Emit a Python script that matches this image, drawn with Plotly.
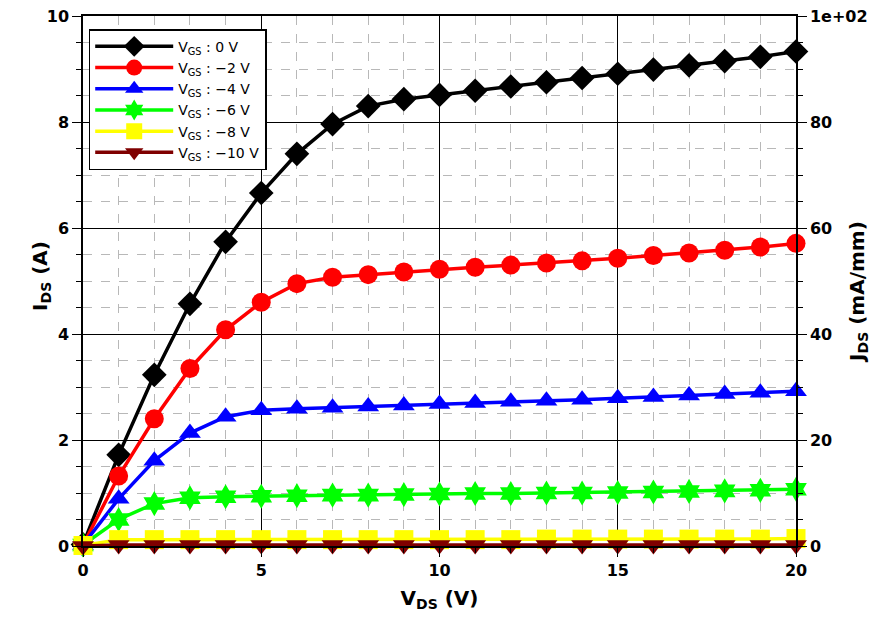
import plotly.graph_objects as go

# drain bias sweep [V]
vds = list(range(0, 21))

# drain current [A] per gate bias
ids_0 = [0.03, 1.72, 3.23, 4.57, 5.74, 6.66, 7.40, 7.96, 8.30, 8.43, 8.51,
         8.59, 8.67, 8.75, 8.83, 8.91, 8.99, 9.07, 9.15, 9.23, 9.33]
ids_m2 = [0.02, 1.32, 2.40, 3.35, 4.08, 4.60, 4.95, 5.07, 5.12, 5.17, 5.22,
          5.26, 5.30, 5.34, 5.38, 5.43, 5.48, 5.53, 5.58, 5.64, 5.71]
ids_m4 = [0.02, 0.89, 1.61, 2.13, 2.44, 2.56, 2.59, 2.61, 2.63, 2.65, 2.68,
          2.70, 2.72, 2.74, 2.76, 2.79, 2.81, 2.84, 2.87, 2.89, 2.92]
ids_m6 = [0.02, 0.50, 0.80, 0.91, 0.93, 0.94, 0.95, 0.96, 0.96, 0.97, 0.98,
          0.99, 0.99, 1.00, 1.00, 1.01, 1.02, 1.03, 1.04, 1.05, 1.07]
ids_m8 = [0.01, 0.12, 0.12, 0.12, 0.12, 0.12, 0.12, 0.12, 0.12, 0.12, 0.12,
          0.12, 0.12, 0.13, 0.13, 0.13, 0.13, 0.13, 0.13, 0.13, 0.14]
ids_m10 = [0.0, 0.02, 0.02, 0.02, 0.02, 0.02, 0.02, 0.02, 0.02, 0.02, 0.02,
           0.02, 0.02, 0.02, 0.02, 0.02, 0.02, 0.02, 0.02, 0.02, 0.02]

labels = ["V<sub>GS</sub> : 0 V", "V<sub>GS</sub> : \u22122 V", "V<sub>GS</sub> : \u22124 V",
          "V<sub>GS</sub> : \u22126 V", "V<sub>GS</sub> : \u22128 V", "V<sub>GS</sub> : \u221210 V"]
series = [ids_0, ids_m2, ids_m4, ids_m6, ids_m8, ids_m10]
colors = ["#000000", "#ff0000", "#0000ff", "#00ff00", "#ffff00", "#7f0000"]
symbols = ["diamond", "circle", "triangle-up", "hexagram", "square", "triangle-down"]

# right axis ticks (mA/mm)
j_ticks = [0, 20, 40, 60, 80, 100]
j_text = ["0", "20", "40", "60", "80", "1e+02"]

FONT = "DejaVu Sans"

fig = go.Figure()
for lab, ys, col, sym in zip(labels, series, colors, symbols):
    fig.add_trace(go.Scatter(
        x=vds, y=ys, name=lab, mode="lines+markers",
        line=dict(color=col, width=3.5),
        marker=dict(symbol=sym, size=19, color=col, line=dict(width=0)),
        cliponaxis=False,
    ))

# keeps the right axis alive
fig.add_trace(go.Scatter(x=[None], y=[None], yaxis="y2", showlegend=False,
                         hoverinfo="skip"))

# page body adds ~8px offset, so the figure is a bit smaller than the window
fig.update_layout(
    width=879, height=614,
    margin=dict(l=75, r=91, t=8, b=76),
    paper_bgcolor="white", plot_bgcolor="white",
    font=dict(family=FONT, color="black"),
    showlegend=True,
    legend=dict(x=0.008, y=0.975, xanchor="left", yanchor="top",
                bordercolor="black", borderwidth=1.5, bgcolor="white",
                font=dict(size=14, family=FONT), tracegroupgap=0,
                itemwidth=78),
    xaxis=dict(range=[0, 20], dtick=5, tick0=0, automargin=False,
               showgrid=True, gridcolor="black", gridwidth=1,
               showline=True, linecolor="black", linewidth=1.5, mirror=True,
               ticks="outside", ticklen=9, tickcolor="black",
               ticklabeloverflow="allow",
               tickfont=dict(size=16, family=FONT, weight="bold"),
               minor=dict(dtick=1, showgrid=True, gridcolor="#b8b8b8",
                          griddash="dash", gridwidth=1,
                          ticks="outside", ticklen=5, tickcolor="black"),
               title=dict(text="<b>V<sub>DS</sub> (V)</b>",
                          font=dict(size=20, family=FONT), standoff=12),
               zeroline=False),
    yaxis=dict(range=[0, 10], dtick=2, tick0=0, automargin=False,
               showgrid=True, gridcolor="black", gridwidth=1,
               showline=True, linecolor="black", linewidth=1.5, mirror=True,
               ticks="outside", ticklen=9, tickcolor="black",
               ticklabeloverflow="allow",
               tickfont=dict(size=16, family=FONT, weight="bold"),
               minor=dict(dtick=0.5, showgrid=True, gridcolor="#b8b8b8",
                          griddash="dash", gridwidth=1,
                          ticks="outside", ticklen=5, tickcolor="black"),
               zeroline=False),
    yaxis2=dict(range=[0, 100], overlaying="y", side="right", automargin=False,
                tickvals=j_ticks, ticktext=j_text,
                showgrid=False, zeroline=False,
                showline=True, linecolor="black", linewidth=1.5,
                ticks="outside", ticklen=9, tickcolor="black",
                ticklabeloverflow="allow",
                tickfont=dict(size=16, family=FONT, weight="bold"),
                minor=dict(dtick=5, ticks="outside", ticklen=5, tickcolor="black",
                           showgrid=False)),
    annotations=[
        dict(text="<b>I<sub>DS</sub> (A)</b>", textangle=-90, showarrow=False,
             xref="paper", yref="paper", x=-0.06, y=0.51,
             xanchor="center", yanchor="middle", font=dict(size=20, family=FONT)),
        dict(text="<b>J<sub>DS</sub> (mA/mm)</b>", textangle=-90, showarrow=False,
             xref="paper", yref="paper", x=1.086, y=0.48,
             xanchor="center", yanchor="middle", font=dict(size=20, family=FONT)),
    ],
)

fig.write_html("out.html")
